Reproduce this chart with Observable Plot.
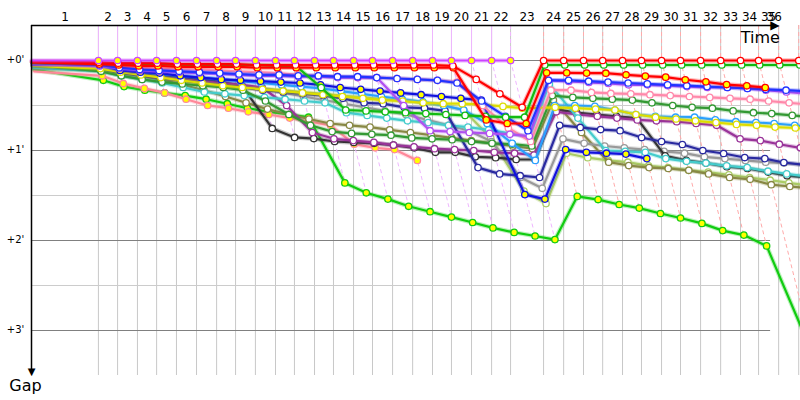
<!DOCTYPE html>
<html><head><meta charset="utf-8">
<script src="https://cdn.jsdelivr.net/npm/d3@7"></script>
<script src="https://cdn.jsdelivr.net/npm/@observablehq/plot@0.6"></script>
<style>body{margin:0;background:#fff}</style>
</head><body><div id="chart"></div>
<script>
const N = null;
// leader's cumulative time (units) at the end of each lap 0..36
const leaderTime = [0, 3.00, 3.86, 4.75, 5.61, 6.50, 7.40, 8.30, 9.15, 10.04, 10.94, 11.79, 12.69, 13.54, 14.44, 15.29, 16.19, 17.09, 17.98, 18.83, 19.73, 20.63, 21.48, 22.96, 23.86, 24.75, 25.61, 26.50, 27.35, 28.25, 29.10, 30.00, 30.90, 31.79, 32.60, 33.50, 34.40];
const lapNumbers = d3.range(1, 37);
const gapTicks = [0, 1, 2, 3];
const gapTickLabels = ["+0'", "+1'", "+2'", "+3'"];
const halfTicks = [0.5, 1.5, 2.5];

// gap to leader (minutes) per lap 0..36
const gapsM1 = [0,0,0,0,0,0,0,0,0,0,0,0,0,0,0,0,0,0,0,0,0,0,0,N,N,N,N,N,N,N,N,N,N,N,N,N,N];
const gapsR1 = [0.01,0.02,0.03,0.03,0.03,0.04,0.04,0.04,0.04,0.05,0.05,0.05,0.05,0.05,0.05,0.05,0.05,0.05,0.05,0.06,0.21,0.37,0.52,0,0,0,0,0,0,0,0,0,0,0,0,0,0];
const gapsR2 = [0.02,0.04,0.05,0.06,0.06,0.07,0.07,0.07,0.07,0.08,0.08,0.08,0.08,0.08,0.08,0.08,0.08,0.08,0.08,0.08,0.66,0.70,0.70,0.137,0.137,0.14,0.141,0.159,0.174,0.185,0.214,0.237,0.267,0.281,0.30,N,N];
const gapsG2 = [0.02,0.03,0.04,0.04,0.04,0.05,0.05,0.05,0.05,0.05,0.06,0.06,0.3,0.55,0.56,0.57,0.58,0.59,0.6,0.61,0.62,0.63,0.63,0.05,0.05,0.05,0.05,0.05,0.05,0.05,0.05,0.05,0.05,0.05,0.05,0.05,0.05];
const gapsG1 = [0.1,0.22,0.29,0.33,0.36,0.39,0.43,0.48,0.53,0.57,0.6,0.63,1.36,1.47,1.54,1.62,1.68,1.74,1.80,1.86,1.91,1.95,1.99,1.51,1.545,1.6,1.64,1.70,1.75,1.81,1.89,1.94,2.06,3.3,N,N,N];
const gapsP2 = [0.12,0.17,0.255,0.31,0.36,0.43,0.5,0.53,0.57,0.6,0.64,0.68,0.72,0.93,0.97,0.99,1.11,N,N,N,N,N,N,N,N,N,N,N,N,N,N,N,N,N,N,N,N];
const gapsB2 = [0.05,0.04,0.11,0.13,0.14,0.17,0.19,0.21,0.22,0.23,0.24,0.25,0.27,0.30,0.32,0.34,0.36,0.38,0.40,0.42,0.44,1.49,1.54,0.99,1.02,1.03,1.04,1.09,N,N,N,N,N,N,N,N,N];
const gapsB1 = [0.03,0.05,0.08,0.1,0.11,0.12,0.13,0.14,0.15,0.16,0.16,0.17,0.17,0.18,0.18,0.19,0.2,0.21,0.22,0.25,0.45,0.62,0.78,0.22,0.22,0.23,0.24,0.25,0.26,0.27,0.28,0.29,0.3,0.31,0.32,0.33,0.34];
const gapsNB = [0.06,0.1,0.14,0.17,0.2,0.22,0.25,0.28,0.3,0.33,0.35,0.37,0.39,0.42,0.47,0.48,0.52,0.53,0.56,1.19,1.26,1.28,1.30,0.72,0.744,0.767,0.78,0.856,0.9,0.933,1.0,1.033,1.078,1.09,1.133,1.16,1.19];
const gapsP1 = [0.04,0.06,0.07,0.08,0.09,0.1,0.1,0.11,0.12,0.13,0.14,0.16,0.17,0.18,0.19,0.19,0.2,0.21,0.22,0.24,0.5,0.75,0.9,0.33,0.33,0.355,0.366,0.37,0.38,0.39,0.40,0.41,0.42,0.43,0.45,0.47,0.49];
const gapsM2 = [0.03,0.06,0.09,0.11,0.12,0.13,0.14,0.15,0.16,0.17,0.17,0.18,0.18,0.19,0.19,0.19,0.5,0.78,0.79,0.8,0.81,0.82,0.84,0.22,0.233,0.244,0.255,0.27,0.27,0.28,0.29,0.30,0.30,0.31,0.33,0.35,0.37];
const gapsDG = [0.05,0.12,0.17,0.21,0.24,0.26,0.28,0.3,0.33,0.45,0.6,0.72,0.79,0.81,0.82,0.83,0.86,0.87,0.88,0.9,0.92,0.93,0.95,0.39,0.41,0.42,0.43,0.44,0.47,0.5,0.52,0.53,0.56,0.58,0.59,0.61,0.63];
const gapsLB = [0.04,0.07,0.1,0.13,0.15,0.17,0.19,0.21,0.23,0.25,0.27,0.29,0.31,0.34,0.37,0.4,0.43,0.46,0.5,0.55,0.7,0.92,1.11,0.5,0.5,0.51,0.55,0.6,0.62,0.63,0.63,0.66,0.68,0.69,0.7,0.72,0.74];
const gapsY = [0.06,0.09,0.13,0.16,0.19,0.22,0.25,0.28,0.3,0.32,0.34,0.36,0.38,0.4,0.42,0.44,0.45,0.47,0.48,0.48,0.49,0.51,0.53,0.52,0.53,0.54,0.55,0.6,0.63,0.65,0.67,0.69,0.71,0.72,0.74,0.75,0.77];
const gapsPU = [0.07,0.1,0.13,0.16,0.19,0.21,0.23,0.25,0.27,0.3,0.5,0.8,0.87,0.89,0.91,0.94,0.96,0.98,0.99,1.0,1.02,1.03,1.05,0.57,0.6,0.62,0.64,0.66,0.67,0.68,0.7,0.72,0.87,0.89,0.93,0.97,0.99];
const gapsK = [0.06,0.08,0.11,0.14,0.16,0.19,0.21,0.24,0.28,0.755,0.855,0.867,0.9,0.91,0.92,0.94,0.97,1.02,1.02,1.07,1.08,1.1,1.1,0.54,0.58,0.6,0.62,0.64,1.06,1.11,1.14,1.18,1.2,1.24,1.28,1.3,1.32];
const gapsGR = [0.07,0.09,0.12,0.15,0.18,0.2,0.22,0.25,0.28,0.31,0.36,0.4,0.44,0.48,0.52,0.56,0.6,0.66,0.72,0.78,0.9,1.3,1.42,0.87,0.92,0.95,0.97,0.99,1.01,1.03,1.07,1.09,1.11,1.13,1.14,1.16,1.18];
const gapsCY = [0.08,0.12,0.17,0.21,0.25,0.3,0.35,0.37,0.39,0.41,0.43,0.45,0.47,0.58,0.61,0.64,0.67,0.69,0.72,0.74,0.77,0.81,0.85,0.26,0.64,1.0,1.01,1.02,1.09,1.12,1.14,1.17,1.19,1.23,1.26,1.29,N];
const gapsOL = [0.09,0.1,0.13,0.17,0.21,0.27,0.33,0.4,0.47,0.54,0.6,0.65,0.7,0.72,0.74,0.77,0.8,0.83,0.86,0.89,0.92,0.95,0.98,0.44,0.8,1.13,1.167,1.19,1.2,1.22,1.26,1.3,1.32,1.38,1.4,1.42,N];
const gapsLG = [0.08,0.11,0.14,0.17,0.2,0.23,0.25,0.27,0.29,0.31,0.33,0.35,0.37,0.39,0.41,0.43,0.45,0.47,0.5,0.55,0.86,1.45,1.59,1.03,1.08,1.11,1.13,1.17,1.19,1.22,1.24,1.27,1.3,1.33,1.36,1.39,N];

const driverNames = ["M1","R1","R2","G2","B1","M2","P1","B2","Y","LB","DG","NB","CY","PU","K","GR","OL","LG","P2","G1"];
const driverColors = ["#cc44ff","#ff0000","#ff0000","#11bb11","#2233ff","#b050f0","#ff88aa","#1111dd","#dddd00","#2aa0ff","#339933","#2a2aa0","#44cccc","#993399","#333333","#999999","#888844","#aacc66","#ff8899","#11cc11"];
const driverFills = ["#ffff00","#ffffff","#ffff00","#ffffff","#ffffff","#ffffff","#ffffff","#ffff00","#ffffff","#ffffff","#ffffff","#ffffff","#ffffff","#ffffff","#ffffff","#ffffff","#ffffff","#ffffff","#ffff00","#ffff00"];
const driverGaps = [gapsM1,gapsR1,gapsR2,gapsG2,gapsB1,gapsM2,gapsP1,gapsB2,gapsY,gapsLB,gapsDG,gapsNB,gapsCY,gapsPU,gapsK,gapsGR,gapsOL,gapsLG,gapsP2,gapsG1];

const series = driverNames.map((name, k) => ({name, color: driverColors[k], fill: driverFills[k], gaps: driverGaps[k]}));
const rows = series.flatMap(s => s.gaps.map((g, i) => g == null ? null :
  ({driver: s.name, color: s.color, fill: s.fill, lap: i, gap: g, t: leaderTime[i] + g})).filter(Boolean));

const lapInfo = lapNumbers.map(n => ({
  lap: n, t: leaderTime[n],
  gmax: d3.max(series, s => s.gaps[n]),
  col: n <= 22 ? "#efb6ff" : "#ffaaaa"
}));

// layout
const yTop = -0.389, yBottom = 3.5;
const xMax = 34.48, gridEnd = 33.14, axisEnd = 33.2, labelMax = 33.3;
const lapLabelData = lapNumbers.map(n => ({label: String(n), mid: Math.min((leaderTime[n-1] + leaderTime[n]) / 2, labelMax)}));

const marks = [
  Plot.ruleX(leaderTime.slice(1), {y1: yTop, y2: yBottom, stroke: "#c8c8c8", strokeWidth: 1}),
  Plot.ruleY(halfTicks, {x1: 0, x2: gridEnd, stroke: "#cccccc", strokeWidth: 1}),
  Plot.ruleY(gapTicks, {x1: 0, x2: gridEnd, stroke: "#808080", strokeWidth: 1}),
  Plot.ruleX(lapInfo.filter(d => d.lap <= 21), {x: "t", y1: yTop, y2: 0, stroke: "col", strokeWidth: 1}),
  Plot.ruleX(lapInfo.filter(d => d.lap > 21), {x: "t", y1: yTop, y2: 0, stroke: "col", strokeWidth: 1, strokeDasharray: "4,3"}),
  Plot.link(lapInfo, {x1: "t", y1: () => 0, x2: d => d.t + d.gmax, y2: "gmax", stroke: "col", strokeWidth: 1, strokeDasharray: "4,3"}),
];

for (const s of series.slice().reverse()) {
  const r = rows.filter(d => d.driver === s.name);
  marks.push(Plot.line(r, {x: "t", y: "gap", stroke: "color", strokeWidth: 4.5, strokeOpacity: 0.28}));
  marks.push(Plot.line(r, {x: "t", y: "gap", stroke: "color", strokeWidth: 2.2}));
  marks.push(Plot.dot(r.filter(d => d.lap >= 1), {x: "t", y: "gap", r: 3.2, stroke: "color", fill: "fill", strokeWidth: 1.3}));
}

marks.push(
  Plot.ruleY([yTop], {x1: 0, x2: axisEnd, stroke: "black", strokeWidth: 1.5}),
  Plot.ruleX([0], {y1: yTop, y2: 3.45, stroke: "black", strokeWidth: 1.5}),
  Plot.text(["\u25B6"], {x: () => axisEnd, y: () => yTop, dx: 3, dy: 0, fontSize: 12, textAnchor: "middle", fill: "black"}),
  Plot.text(["\u25BC"], {x: () => 0, y: () => yBottom, dy: -4, fontSize: 10, fill: "black"}),
  Plot.text(lapLabelData, {x: "mid", y: () => yTop, dy: -8, text: "label", fontSize: 12, fill: "black"}),
  Plot.text(gapTicks, {x: () => 0, y: d => d, dx: -16, dy: -1, text: (d, i) => gapTickLabels[i], fontSize: 10, fill: "black"}),
  Plot.text(["Time"], {x: () => axisEnd, y: () => yTop, dx: 8, dy: 12, textAnchor: "end", fontSize: 16, fill: "black"}),
  Plot.text(["Gap"], {x: () => 0, y: () => yBottom, dx: -6, dy: 10, fontSize: 16, fill: "black"})
);

const chart = Plot.plot({
  width: 800, height: 400,
  marginLeft: 31, marginRight: 0, marginTop: 25, marginBottom: 25,
  x: {domain: [0, xMax], axis: null},
  y: {domain: [yTop, yBottom], reverse: true, axis: null},
  color: {type: "identity"},
  style: {fontFamily: "DejaVu Sans, sans-serif", background: "white", overflow: "hidden"},
  marks
});
document.getElementById("chart").append(chart);
</script>
</body></html>
